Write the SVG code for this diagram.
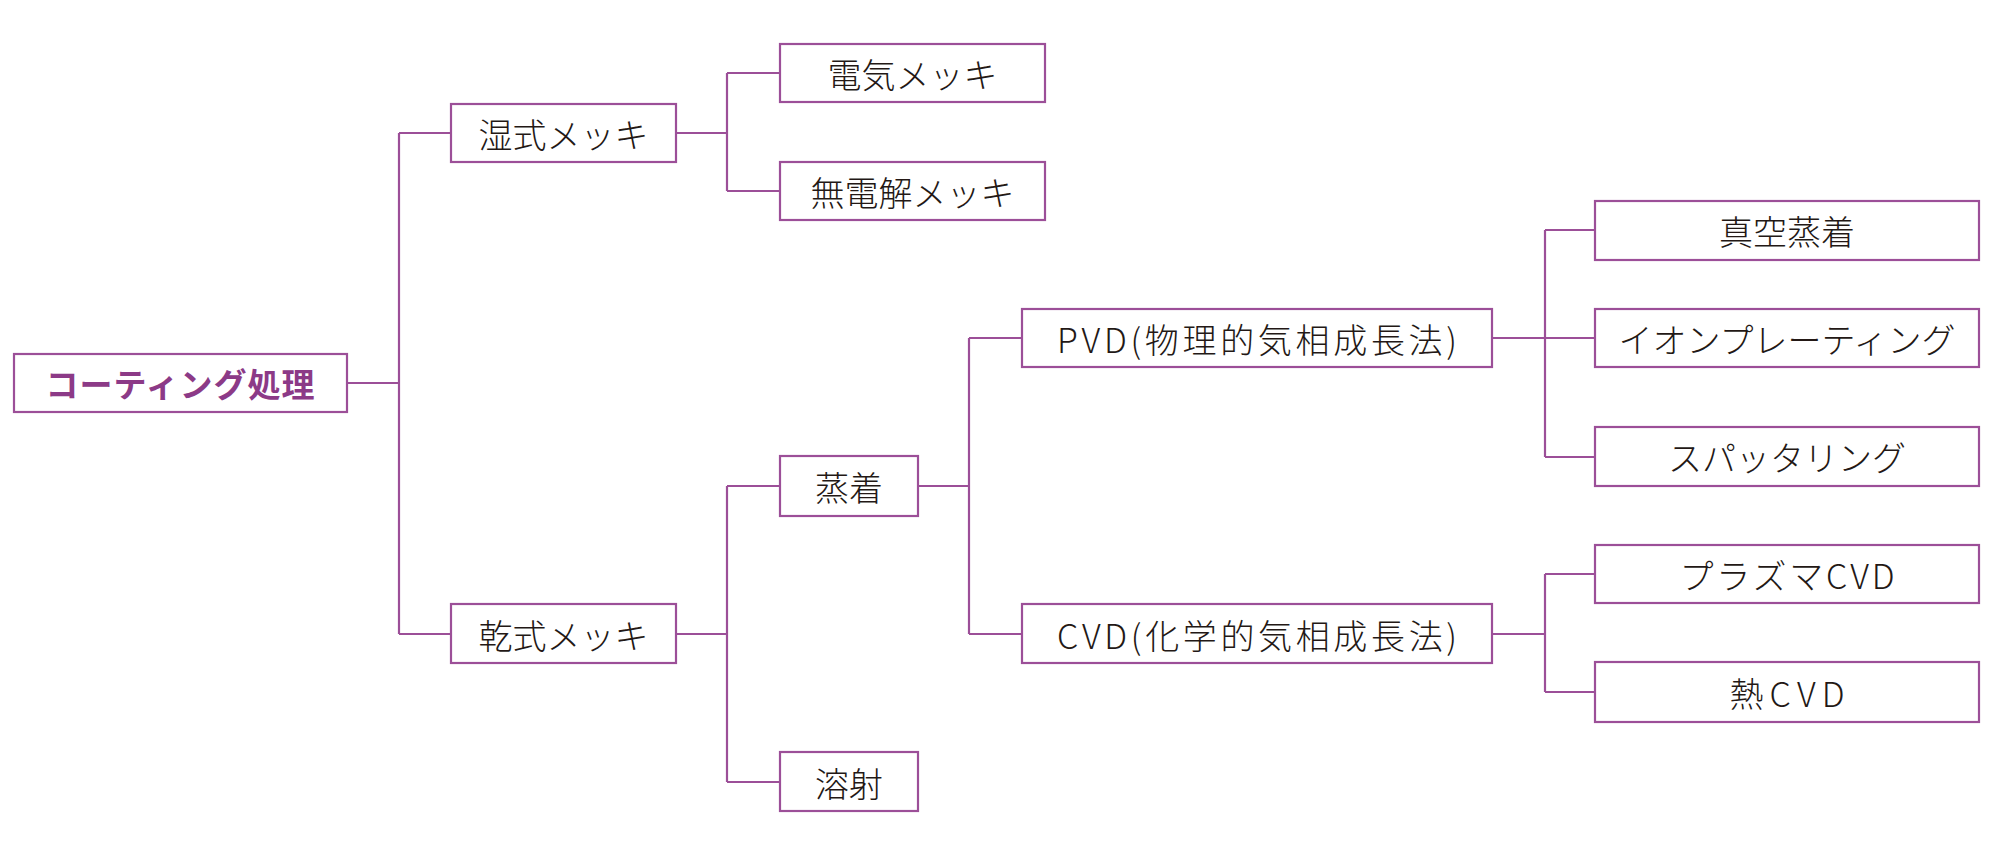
<svg xmlns="http://www.w3.org/2000/svg" width="2000" height="848" viewBox="0 0 2000 848">
<style>
.box{fill:#ffffff;stroke:#9c4f98;stroke-width:2.2}
.lbl{font-family:"Noto Sans CJK JP","Noto Sans",sans-serif;font-size:34px;font-weight:300;fill:#231815;text-anchor:middle;dominant-baseline:central}
.root{font-family:"Noto Sans CJK JP","Noto Sans",sans-serif;font-size:33px;font-weight:bold;fill:#8c3a87;text-anchor:middle;dominant-baseline:central}
.conn path{fill:none;stroke:#9c4f98;stroke-width:2.2}
</style>
<rect width="2000" height="848" fill="#ffffff"/>
<g id="connectors" class="conn">
<path d="M347 383 H399 M399 133 V634 M399 133 H451 M399 634 H451"/>
<path d="M676 133 H727 M727 73 V191 M727 73 H780 M727 191 H780"/>
<path d="M676 634 H727 M727 486 V782 M727 486 H780 M727 782 H780"/>
<path d="M918 486 H969 M969 338 V634 M969 338 H1022 M969 634 H1022"/>
<path d="M1492 338 H1595 M1545 230 V457 M1545 230 H1595 M1545 457 H1595"/>
<path d="M1492 634 H1545 M1545 574 V692 M1545 574 H1595 M1545 692 H1595"/>
</g>
<g id="n-root"><rect class="box" x="14" y="354" width="333" height="58"/><text class="root" x="180.5" y="383" letter-spacing="1">コーティング処理</text></g>
<g id="n-wet"><rect class="box" x="451" y="104" width="225" height="58"/><text class="lbl" x="563.5" y="133">湿式メッキ</text></g>
<g id="n-electro"><rect class="box" x="780" y="44" width="265" height="58"/><text class="lbl" x="912.5" y="73">電気メッキ</text></g>
<g id="n-electroless"><rect class="box" x="780" y="162" width="265" height="58"/><text class="lbl" x="912.5" y="191">無電解メッキ</text></g>
<g id="n-dry"><rect class="box" x="451" y="604" width="225" height="59"/><text class="lbl" x="563.5" y="634">乾式メッキ</text></g>
<g id="n-vapor"><rect class="box" x="780" y="456" width="138" height="60"/><text class="lbl" x="849" y="486">蒸着</text></g>
<g id="n-spray"><rect class="box" x="780" y="752" width="138" height="59"/><text class="lbl" x="849" y="782">溶射</text></g>
<g id="n-pvd"><rect class="box" x="1022" y="309" width="470" height="58"/><text class="lbl" x="1257" y="338" textLength="400" lengthAdjust="spacing">PVD(物理的気相成長法)</text></g>
<g id="n-cvd"><rect class="box" x="1022" y="604" width="470" height="59"/><text class="lbl" x="1257" y="634" textLength="400" lengthAdjust="spacing">CVD(化学的気相成長法)</text></g>
<g id="n-vacuum"><rect class="box" x="1595" y="201" width="384" height="59"/><text class="lbl" x="1787" y="230.5">真空蒸着</text></g>
<g id="n-ion"><rect class="box" x="1595" y="309" width="384" height="58"/><text class="lbl" x="1787" y="338">イオンプレーティング</text></g>
<g id="n-sputter"><rect class="box" x="1595" y="427" width="384" height="59"/><text class="lbl" x="1787" y="456.5">スパッタリング</text></g>
<g id="n-plasma"><rect class="box" x="1595" y="545" width="384" height="58"/><text class="lbl" x="1787" y="574" textLength="215" lengthAdjust="spacing">プラズマCVD</text></g>
<g id="n-thermal"><rect class="box" x="1595" y="662" width="384" height="60"/><text class="lbl" x="1787" y="692" textLength="115" lengthAdjust="spacing">熱CVD</text></g>
</svg>
